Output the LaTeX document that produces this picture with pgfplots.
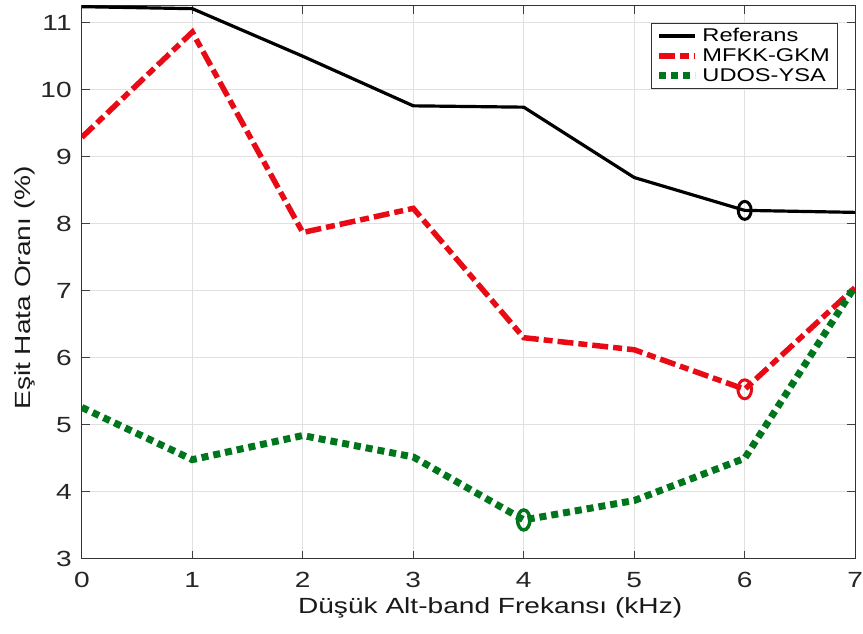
\documentclass[border=0pt]{standalone}
\usepackage{fontspec}
\setmainfont{Liberation Sans}[FakeStretch=1.28]
\usepackage{pgfplots}
\pgfplotsset{compat=1.18}
\definecolor{myred}{RGB}{232,10,20}
\definecolor{mygreen}{RGB}{0,118,28}
\begin{document}
\begin{tikzpicture}
\begin{axis}[
  scale only axis,
  width=775pt, height=554pt,
  xmin=0, xmax=7, ymin=3, ymax=11.25,
  xtick={0,1,2,3,4,5,6,7},
  ytick={3,4,5,6,7,8,9,10,11},
  tick align=inside,
  xtick pos=both, ytick pos=both,
  major tick length=8pt,
  tick style={color=black!75, line width=0.8pt},
  axis line style={color=black!80, line width=1pt},
  grid=major,
  grid style={color=black!12, line width=0.7pt},
  /pgf/number format/assume math mode=true,
  tick label style={font=\fontsize{22}{22}\selectfont, color=black!85},
  xticklabel style={anchor=base, inner sep=0pt, yshift=-29pt},
  yticklabel style={anchor=east, inner sep=0pt, xshift=-10pt},
  xlabel={Düşük Alt-band Frekansı (kHz)},
  ylabel={Eşit Hata Oranı (\%)},
  label style={font=\fontsize{22}{22}\selectfont, color=black!90, inner sep=0pt},
  xlabel style={at={(axis description cs:0.528,-0.0985)}, anchor=base},
  ylabel style={at={(axis description cs:-0.0658,0.49)}, anchor=base},
  legend style={at={(axis description cs:0.978,0.970)}, anchor=north east,
    font=\fontsize{18.5}{20}\selectfont, draw=black!80, line width=0.8pt,
    inner xsep=4pt, inner ysep=3pt, row sep=0pt,
    nodes={inner ysep=2.6pt, inner xsep=4pt}},
  legend cell align=left,
  legend image code/.code={\draw[#1] (0pt,0pt) -- (36pt,0pt);},
]
\addplot[black, line width=3.2pt] coordinates {
(0,11.24) (1,11.21) (2,10.5) (3,9.76) (4,9.74) (5,8.69) (6,8.2) (7,8.17)};
\addlegendentry{Referans}
\addplot[myred, line width=5.5pt, dash pattern=on 16pt off 5pt on 9pt off 5pt] coordinates {
(0,9.29) (1,10.86) (2,7.87) (3,8.23) (4,6.3) (5,6.12) (6,5.53) (7,7.05)};
\addlegendentry{MFKK-GKM}
\addplot[mygreen, line width=7pt, dash pattern=on 7pt off 5pt] coordinates {
(0,5.26) (1,4.48) (2,4.84) (3,4.52) (4,3.58) (5,3.87) (6,4.5) (7,7.07)};
\addlegendentry{UDOS-YSA}
\addplot[black, only marks, mark=o, mark size=9pt, mark options={xscale=0.72, line width=3pt, solid}, forget plot] coordinates {(6,8.2)};
\addplot[myred, only marks, mark=o, mark size=9.5pt, mark options={xscale=0.72, line width=3pt, solid}, forget plot] coordinates {(6,5.53)};
\addplot[mygreen, only marks, mark=o, mark size=10pt, mark options={xscale=0.62, line width=3.5pt, solid}, forget plot] coordinates {(4,3.58)};
\end{axis}
\useasboundingbox (-82pt,-75pt) rectangle (781pt,560pt);
\end{tikzpicture}
\end{document}
